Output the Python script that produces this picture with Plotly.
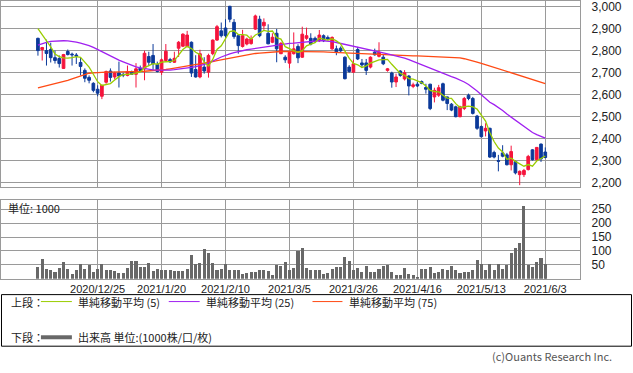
import plotly.graph_objects as go
import pandas as pd

W, H = 633, 373

# ---------------- data ----------------
holidays = ["2020-12-31", "2021-01-01", "2021-01-11", "2021-02-11", "2021-02-23",
            "2021-04-29", "2021-05-03", "2021-05-04", "2021-05-05"]
dates = [d for d in pd.bdate_range("2020-12-07", "2021-06-03")
         if d.strftime("%Y-%m-%d") not in holidays]

open_ = [2857, 2806, 2801, 2806, 2769, 2765, 2720, 2797, 2785, 2781,
         2747, 2711, 2679, 2652, 2625, 2593, 2657, 2708, 2681, 2699,
         2693, 2688, 2703, 2693, 2721, 2718, 2774, 2779, 2738, 2703,
         2756, 2760, 2748, 2812, 2821, 2820, 2839, 2715, 2681, 2726,
         2703, 2787, 2849, 2891, 2904, 3003, 2930, 2869, 2820, 2831,
         2833, 2899, 2944, 2914, 2880, 2839, 2880, 2787, 2771, 2744,
         2787, 2820, 2771, 2857, 2857, 2857, 2846, 2869, 2861, 2809,
         2809, 2812, 2771, 2726, 2703, 2806, 2745, 2745, 2726, 2794,
         2775, 2771, 2711, 2699, 2658, 2708, 2672, 2685, 2638, 2648,
         2660, 2633, 2648, 2590, 2598, 2650, 2590, 2557, 2545, 2500,
         2537, 2598, 2583, 2503, 2455, 2435, 2447, 2337, 2300, 2335,
         2326, 2281, 2296, 2236, 2236, 2259, 2349, 2304, 2375, 2339]
high = [2860, 2818, 2851, 2837, 2801, 2779, 2786, 2806, 2792, 2790,
        2769, 2720, 2688, 2657, 2643, 2645, 2710, 2720, 2705, 2751,
        2700, 2733, 2710, 2744, 2733, 2801, 2796, 2831, 2751, 2765,
        2831, 2768, 2796, 2845, 2880, 2891, 2843, 2780, 2805, 2771,
        2787, 2852, 2918, 2929, 2944, 3005, 2945, 2875, 2896, 2860,
        2870, 2965, 2960, 2948, 2921, 2880, 2900, 2840, 2780, 2801,
        2884, 2830, 2910, 2906, 2880, 2865, 2895, 2875, 2870, 2866,
        2824, 2820, 2775, 2735, 2760, 2818, 2763, 2763, 2775, 2810,
        2839, 2786, 2722, 2705, 2696, 2712, 2712, 2690, 2655, 2660,
        2665, 2650, 2650, 2632, 2645, 2655, 2592, 2562, 2550, 2550,
        2590, 2605, 2590, 2508, 2460, 2470, 2450, 2345, 2326, 2370,
        2335, 2368, 2300, 2255, 2262, 2326, 2352, 2362, 2378, 2360]
low = [2778, 2756, 2733, 2747, 2742, 2724, 2718, 2779, 2733, 2740,
       2688, 2657, 2652, 2611, 2593, 2580, 2650, 2660, 2670, 2633,
       2680, 2684, 2690, 2633, 2706, 2666, 2730, 2711, 2702, 2690,
       2750, 2745, 2745, 2772, 2817, 2816, 2681, 2678, 2675, 2696,
       2678, 2780, 2845, 2861, 2860, 2930, 2855, 2787, 2815, 2825,
       2828, 2895, 2862, 2896, 2830, 2835, 2748, 2785, 2745, 2721,
       2783, 2744, 2768, 2850, 2825, 2836, 2840, 2840, 2848, 2805,
       2780, 2795, 2670, 2700, 2700, 2758, 2724, 2690, 2720, 2778,
       2770, 2735, 2705, 2632, 2635, 2682, 2665, 2597, 2630, 2635,
       2648, 2605, 2530, 2565, 2590, 2570, 2530, 2525, 2497, 2497,
       2530, 2575, 2510, 2440, 2405, 2410, 2312, 2310, 2251, 2315,
       2278, 2255, 2237, 2188, 2225, 2255, 2300, 2300, 2294, 2310]
close = [2801, 2815, 2788, 2769, 2756, 2742, 2783, 2783, 2782, 2776,
         2729, 2675, 2666, 2620, 2607, 2643, 2706, 2679, 2699, 2685,
         2690, 2706, 2693, 2718, 2711, 2789, 2748, 2741, 2706, 2759,
         2798, 2750, 2766, 2839, 2876, 2872, 2699, 2681, 2787, 2708,
         2779, 2849, 2910, 2869, 2869, 2944, 2865, 2824, 2869, 2854,
         2855, 2959, 2869, 2930, 2832, 2862, 2809, 2834, 2759, 2793,
         2809, 2768, 2876, 2869, 2831, 2842, 2872, 2846, 2854, 2861,
         2794, 2800, 2673, 2706, 2741, 2763, 2736, 2711, 2771, 2782,
         2794, 2741, 2718, 2658, 2681, 2688, 2700, 2640, 2645, 2640,
         2652, 2625, 2537, 2620, 2632, 2575, 2560, 2530, 2500, 2545,
         2583, 2583, 2515, 2447, 2409, 2447, 2316, 2316, 2297, 2320,
         2281, 2341, 2244, 2251, 2255, 2319, 2304, 2360, 2308, 2314]

volume = [44, 71, 36, 33, 24, 39, 62, 36, 18, 32,
          54, 36, 48, 24, 36, 54, 30, 32, 27, 21,
          21, 38, 65, 65, 42, 42, 57, 28, 36, 33,
          33, 30, 29, 27, 27, 36, 85, 54, 57, 107,
          93, 57, 33, 36, 54, 33, 33, 33, 18, 21,
          24, 24, 32, 32, 27, 14, 48, 45, 62, 33,
          40, 101, 109, 38, 33, 33, 33, 18, 21, 36,
          42, 42, 77, 65, 30, 38, 26, 45, 24, 26,
          36, 45, 48, 26, 14, 12, 39, 18, 12, 6,
          36, 36, 42, 21, 26, 36, 30, 45, 32, 21,
          24, 26, 30, 68, 54, 32, 54, 32, 54, 36,
          50, 93, 109, 128, 260, 50, 44, 59, 73, 54]

# moving averages (first MA5 values need closes before the visible window)
ma5_head = [2901, 2875, 2848, 2818]
ma25 = [2826, 2833, 2839, 2843, 2845, 2846, 2846, 2845, 2843, 2840,
        2835, 2830, 2824, 2816, 2806, 2796, 2786, 2776, 2767, 2758,
        2750, 2742, 2734, 2727, 2722, 2718, 2715, 2713, 2712, 2711,
        2711, 2712, 2714, 2716, 2719, 2722, 2725, 2728, 2732, 2738,
        2744, 2752, 2763, 2772, 2780, 2786, 2792, 2797, 2801, 2805,
        2808, 2811, 2814, 2817, 2821, 2825, 2828, 2831, 2833, 2834,
        2835, 2837, 2840, 2842, 2844, 2846, 2846, 2846, 2845, 2842,
        2838, 2834, 2830, 2826, 2822, 2818, 2813, 2809, 2804, 2800,
        2795, 2791, 2786, 2782, 2778, 2773, 2767, 2760, 2752, 2744,
        2736, 2728, 2720, 2712, 2705, 2698, 2690, 2683, 2676, 2668,
        2658, 2647, 2633, 2617, 2600, 2584, 2566, 2555, 2543, 2528,
        2512, 2498, 2484, 2467, 2452, 2440, 2428, 2418, 2410, 2402]
ma75 = [2631, 2636, 2641, 2645, 2649, 2653, 2658, 2665, 2672, 2679,
        2686, 2694, 2698, 2700, 2702, 2703, 2703, 2703, 2703, 2703,
        2703, 2703, 2704, 2705, 2706, 2707, 2708, 2709, 2711, 2713,
        2715, 2718, 2721, 2724, 2728, 2732, 2736, 2739, 2742, 2745,
        2748, 2751, 2755, 2759, 2763, 2766, 2770, 2774, 2778, 2782,
        2785, 2788, 2790, 2792, 2794, 2795, 2796, 2797, 2798, 2798,
        2798, 2798, 2798, 2798, 2798, 2797, 2796, 2795, 2794, 2793,
        2792, 2791, 2790, 2789, 2788, 2787, 2786, 2785, 2784, 2783,
        2782, 2781, 2780, 2779, 2779, 2778, 2778, 2778, 2777, 2777,
        2776, 2776, 2775, 2775, 2774, 2774, 2773, 2772, 2770, 2768,
        2764, 2760, 2755, 2749, 2743, 2737, 2730, 2724, 2717, 2710,
        2704, 2698, 2692, 2686, 2680, 2675, 2669, 2663, 2657, 2651]

tick_labels = ["2020/12/25", "2021/1/20", "2021/2/10", "2021/3/5",
               "2021/3/26", "2021/4/16", "2021/5/13", "2021/6/3"]
price_ticks = [2200, 2300, 2400, 2500, 2600, 2700, 2800, 2900, 3000]
vol_ticks = [50, 100, 150, 200, 250]

# ---------------- derived ----------------
xi = list(range(len(dates)))
date_keys = [d.strftime("%Y/%-m/%-d") for d in dates]
tick_idx = [date_keys.index(t) for t in tick_labels]
ma5 = pd.Series(close).rolling(5).mean().tolist()
ma5[:4] = ma5_head

RED = "#f5143c"
BLUE = "#0c3a9a"
GRID = "#9a9a9a"
TXT = "#222222"
NUMFONT = "Liberation Sans"
JPFONT = "Noto Sans CJK JP"

def px(x):
    return x / W

def py(y):
    return 1 - y / H

fig = go.Figure()
fig.add_trace(go.Candlestick(
    x=xi, open=open_, high=high, low=low, close=close,
    increasing=dict(line=dict(color=RED, width=1), fillcolor=RED),
    decreasing=dict(line=dict(color=BLUE, width=1), fillcolor=BLUE),
    whiskerwidth=0, xaxis="x", yaxis="y", showlegend=False))
fig.add_trace(go.Scatter(x=xi, y=ma75, mode="lines", line=dict(color="#ff4a14", width=1.3),
                         xaxis="x", yaxis="y", showlegend=False))
fig.add_trace(go.Scatter(x=xi, y=ma25, mode="lines", line=dict(color="#a020f0", width=1.3),
                         xaxis="x", yaxis="y", showlegend=False))
fig.add_trace(go.Scatter(x=xi, y=ma5, mode="lines", line=dict(color="#9acd00", width=1.3),
                         xaxis="x", yaxis="y", showlegend=False))
fig.add_trace(go.Bar(x=xi, y=volume, marker=dict(color="#686868", line=dict(width=0)),
                     width=0.72, xaxis="x2", yaxis="y2", showlegend=False))

xr = [(0 - 37) / 4.27, (580 - 37) / 4.27]
common_x = dict(range=xr, tickvals=tick_idx, showgrid=True, gridcolor=GRID, gridwidth=1,
                zeroline=False, showline=True, linecolor=GRID, linewidth=1, mirror=True,
                ticks="", domain=[0, px(580)], fixedrange=True)
fig.update_layout(
    width=W, height=H, margin=dict(l=0, r=0, t=0, b=0),
    paper_bgcolor="white", plot_bgcolor="white",
    bargap=0, boxgap=0.1, hovermode=False,
    xaxis=dict(**common_x, anchor="y", showticklabels=False, rangeslider=dict(visible=False)),
    yaxis=dict(domain=[py(188), py(0)], range=[2177.4, 3027.1], side="right",
               tickvals=price_ticks, tickformat=",d", showgrid=True, gridcolor=GRID,
               zeroline=False, showline=True, linecolor=GRID, linewidth=1, mirror=True,
               ticks="", ticklabelstandoff=8, fixedrange=True,
               tickfont=dict(family=NUMFONT, size=12, color=TXT), anchor="x"),
    xaxis2=dict(**common_x, anchor="y2", ticktext=tick_labels, showticklabels=True,
                tickfont=dict(family=NUMFONT, size=11, color=TXT), ticklabelstandoff=0),
    yaxis2=dict(domain=[py(280), py(201)], range=[0, 282], side="right",
                tickvals=vol_ticks, showgrid=True, gridcolor=GRID, zeroline=False,
                showline=True, linecolor=GRID, linewidth=1, mirror=True, ticks="",
                ticklabelstandoff=8, fixedrange=True,
                tickfont=dict(family=NUMFONT, size=12, color=TXT), anchor="x2"),
)

shapes = [
    dict(type="rect", xref="paper", yref="paper", x0=px(0.5), x1=px(631.5), y0=py(348), y1=py(296),
         line=dict(color="#000000", width=1), fillcolor="rgba(0,0,0,0)"),
    dict(type="line", xref="paper", yref="paper", x0=px(40), x1=px(71), y0=py(303), y1=py(303),
         line=dict(color="#9acd00", width=1)),
    dict(type="line", xref="paper", yref="paper", x0=px(168), x1=px(199), y0=py(303), y1=py(303),
         line=dict(color="#a020f0", width=1)),
    dict(type="line", xref="paper", yref="paper", x0=px(312), x1=px(342), y0=py(303), y1=py(303),
         line=dict(color="#ff4a14", width=1)),
    dict(type="line", xref="paper", yref="paper", x0=px(40), x1=px(71), y0=py(339), y1=py(339),
         line=dict(color="#686868", width=4)),
]
fig.update_layout(shapes=shapes)

def ann(text, x, y, size=11, color=TXT, family=JPFONT, xanchor="left"):
    fig.add_annotation(text=text, x=px(x), y=py(y), xref="paper", yref="paper",
                       xanchor=xanchor, yanchor="middle", showarrow=False,
                       font=dict(family=family, size=size, color=color))

ann("単位: 1000", 5, 209, size=11)
ann("上段：", 8, 303)
ann("単純移動平均 (5)", 75, 303)
ann("単純移動平均 (25)", 203, 303)
ann("単純移動平均 (75)", 347, 303)
ann("下段：", 8, 339)
ann("出来高 単位:(1000株/口/枚)", 75, 339)
ann("(c)Ouants Research Inc.", 614, 358, size=11, color="#555555", xanchor="right")

fig.write_html("out.html", config={"displayModeBar": False, "staticPlot": True},
               post_script="document.body.style.margin='0';document.body.style.overflow='hidden';")
